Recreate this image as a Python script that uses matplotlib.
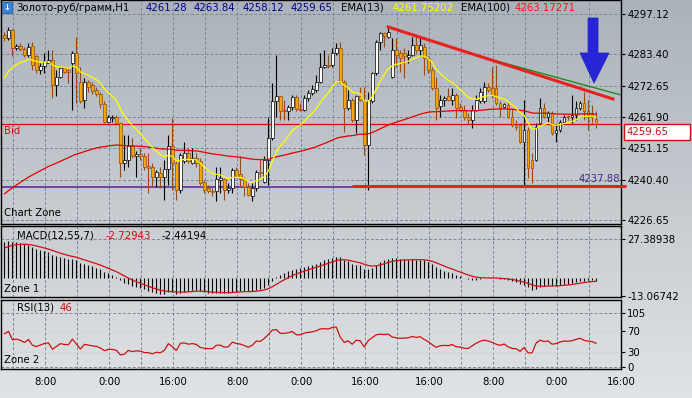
import numpy as np
import matplotlib
matplotlib.use("Agg")
import matplotlib.pyplot as plt
from matplotlib.patches import Rectangle, Polygon
import matplotlib.transforms as mtransforms

plt.rcParams['font.family'] = ['DejaVu Sans']
FS = 7.3

# ---------------- data (H1 candles) ----------------
opens = [4290.0, 4288.8, 4291.7, 4285.4, 4286.2, 4285.1, 4283.1, 4286.2, 4282.6, 4278.0,
         4279.4, 4280.5, 4281.4, 4272.9, 4275.5, 4278.6, 4278.0, 4280.3, 4283.7, 4274.0,
         4267.7, 4274.0, 4272.9, 4271.2, 4269.8, 4266.4, 4260.3, 4261.4, 4262.0, 4259.8,
         4246.3, 4247.2, 4251.8, 4248.4, 4249.3, 4248.6, 4245.2, 4244.9, 4241.3, 4242.7,
         4241.5, 4244.0, 4251.8, 4246.1, 4237.0, 4246.7, 4249.5, 4246.3, 4247.8, 4246.7,
         4239.6, 4237.5, 4236.7, 4236.7, 4240.4, 4240.6, 4237.0, 4237.5, 4243.8, 4242.4,
         4240.6, 4238.1, 4234.7, 4237.5, 4243.2, 4239.5, 4247.2, 4254.6, 4267.2, 4269.1,
         4264.3, 4263.8, 4265.2, 4268.7, 4264.5, 4264.3, 4268.3, 4270.0, 4271.2, 4274.0,
         4279.1, 4279.7, 4279.7, 4283.7, 4285.4, 4274.0, 4264.9, 4267.7, 4260.9, 4268.9,
         4267.2, 4252.4, 4267.2, 4276.9, 4287.7, 4290.5, 4289.4, 4275.7, 4284.8, 4283.7,
         4283.7, 4282.3, 4283.1, 4286.5, 4284.8, 4286.0, 4282.0, 4278.0, 4271.7, 4265.5,
         4267.7, 4268.9, 4267.7, 4269.4, 4265.2, 4264.3, 4262.0, 4260.9, 4264.3, 4267.2,
         4267.2, 4272.3, 4271.7, 4271.7, 4266.6, 4265.2, 4266.0, 4262.0, 4259.2, 4259.2,
         4253.5, 4257.5, 4247.2, 4247.2, 4259.8, 4264.9, 4262.0, 4263.2, 4256.3, 4257.5,
         4260.3, 4262.0, 4262.0, 4262.6, 4264.9, 4266.6, 4263.8, 4263.2, 4261.28]
highs = [4290.8, 4292.8, 4291.9, 4286.9, 4287.1, 4286.0, 4287.1, 4287.7, 4283.1, 4280.3,
         4283.7, 4284.8, 4284.8, 4278.0, 4279.1, 4279.1, 4278.6, 4284.3, 4289.4, 4279.1,
         4275.1, 4274.6, 4274.0, 4272.3, 4270.6, 4267.2, 4262.6, 4262.6, 4262.6, 4260.3,
         4255.8, 4255.8, 4254.6, 4250.1, 4251.2, 4249.5, 4249.5, 4246.1, 4243.8, 4244.9,
         4247.2, 4255.8, 4261.5, 4247.2, 4249.5, 4253.5, 4251.2, 4251.2, 4249.5, 4247.8,
         4240.2, 4238.7, 4237.5, 4244.9, 4244.9, 4241.0, 4239.2, 4244.4, 4244.9, 4248.4,
         4241.5, 4239.2, 4239.2, 4243.8, 4247.2, 4248.4, 4262.0, 4273.4, 4283.1, 4269.1,
         4267.7, 4266.0, 4269.4, 4269.4, 4266.6, 4269.4, 4271.2, 4272.9, 4276.3, 4283.7,
         4284.8, 4283.1, 4285.4, 4287.1, 4287.7, 4274.6, 4271.2, 4268.3, 4269.4, 4272.3,
         4272.3, 4270.6, 4277.4, 4288.3, 4291.1, 4291.1, 4292.2, 4288.8, 4288.8, 4284.8,
         4285.4, 4284.8, 4289.4, 4290.0, 4289.4, 4287.1, 4282.6, 4279.1, 4275.7, 4269.4,
         4269.1, 4271.7, 4271.7, 4270.0, 4266.6, 4266.0, 4263.2, 4266.0, 4269.4, 4271.7,
         4274.0, 4273.4, 4279.1, 4279.7, 4267.2, 4266.6, 4266.6, 4264.9, 4260.9, 4259.8,
         4267.7, 4258.6, 4249.5, 4259.8, 4268.3, 4266.6, 4263.8, 4263.8, 4259.2, 4260.9,
         4262.6, 4262.6, 4269.4, 4267.2, 4267.2, 4270.6, 4267.7, 4266.0, 4263.84]
lows = [4288.0, 4288.3, 4282.6, 4284.8, 4284.3, 4282.3, 4282.3, 4278.0, 4276.9, 4276.6,
        4276.9, 4280.3, 4268.3, 4268.9, 4275.1, 4276.9, 4273.4, 4264.3, 4266.6, 4266.6,
        4264.9, 4270.6, 4269.8, 4269.1, 4264.9, 4259.8, 4259.8, 4260.3, 4259.2, 4241.5,
        4243.8, 4244.9, 4247.8, 4241.5, 4247.2, 4243.8, 4236.0, 4238.1, 4238.1, 4237.5,
        4233.5, 4238.7, 4237.0, 4233.5, 4235.8, 4246.1, 4246.1, 4245.9, 4244.9, 4238.7,
        4235.8, 4235.8, 4234.7, 4233.0, 4235.8, 4233.5, 4235.8, 4235.8, 4241.0, 4238.1,
        4234.7, 4234.7, 4233.0, 4236.4, 4241.5, 4239.2, 4238.7, 4254.1, 4262.0, 4260.9,
        4260.9, 4260.9, 4264.3, 4264.1, 4263.8, 4264.1, 4267.2, 4269.4, 4270.6, 4273.4,
        4278.6, 4278.6, 4279.1, 4283.1, 4273.4, 4256.9, 4264.3, 4260.3, 4256.3, 4267.2,
        4248.9, 4237.0, 4266.6, 4276.3, 4284.8, 4286.0, 4288.8, 4275.1, 4279.1, 4277.4,
        4275.1, 4280.3, 4282.6, 4283.7, 4282.6, 4276.3, 4276.9, 4271.2, 4260.9, 4262.0,
        4265.5, 4267.2, 4266.0, 4261.5, 4263.8, 4260.9, 4259.5, 4258.0, 4263.8, 4266.6,
        4266.6, 4270.6, 4268.3, 4266.0, 4262.0, 4264.9, 4261.5, 4258.6, 4257.5, 4252.9,
        4238.1, 4241.0, 4239.2, 4246.7, 4259.2, 4261.5, 4260.3, 4255.8, 4253.5, 4256.9,
        4259.8, 4260.9, 4259.8, 4260.9, 4264.3, 4260.9, 4257.5, 4259.8, 4258.12]
closes = [4288.8, 4291.7, 4285.4, 4286.2, 4285.1, 4283.1, 4286.0, 4279.7, 4278.0, 4279.4,
          4280.9, 4281.4, 4272.9, 4275.5, 4278.6, 4277.4, 4277.2, 4283.7, 4276.9, 4267.2,
          4274.0, 4272.3, 4270.9, 4269.8, 4266.4, 4260.3, 4261.8, 4261.8, 4259.8, 4246.3,
          4247.2, 4251.8, 4248.4, 4249.3, 4248.4, 4244.9, 4244.4, 4241.3, 4242.9, 4241.5,
          4244.0, 4251.8, 4246.1, 4237.0, 4248.9, 4249.5, 4246.7, 4247.8, 4246.1, 4239.2,
          4237.0, 4236.7, 4236.2, 4240.6, 4241.0, 4237.0, 4237.5, 4243.8, 4241.5, 4240.6,
          4238.1, 4235.2, 4237.5, 4243.2, 4242.7, 4247.2, 4254.6, 4267.2, 4269.1, 4263.8,
          4263.8, 4265.2, 4268.7, 4264.5, 4264.3, 4268.3, 4270.0, 4271.4, 4274.0, 4279.1,
          4279.7, 4279.4, 4283.7, 4285.4, 4274.0, 4264.9, 4267.7, 4260.9, 4268.9, 4267.7,
          4252.4, 4267.7, 4276.9, 4287.7, 4290.5, 4289.6, 4291.1, 4284.8, 4283.1, 4282.0,
          4282.6, 4283.1, 4286.5, 4284.8, 4286.5, 4282.0, 4278.0, 4271.7, 4264.9, 4267.7,
          4268.3, 4267.7, 4269.4, 4264.9, 4264.3, 4261.8, 4260.9, 4264.3, 4267.7, 4270.6,
          4272.3, 4271.2, 4269.4, 4266.6, 4264.9, 4266.4, 4262.0, 4259.2, 4258.6, 4253.5,
          4257.5, 4244.4, 4244.4, 4258.6, 4264.9, 4262.0, 4263.2, 4256.3, 4257.5, 4260.3,
          4262.0, 4261.8, 4262.6, 4264.9, 4266.6, 4263.8, 4262.6, 4262.0, 4259.65]

# indicator starting levels read at the left edge of the picture
ema13_start = 4273.0
ema100_start = 4234.5
ema12_start = 4277.0
ema55_start = 4252.5
signal_start = 19.5
rsi_gain_start, rsi_loss_start = 1.1, 0.5

price_ticks = [4297.12, 4283.40, 4272.65, 4261.90, 4251.15, 4240.40, 4226.65]
macd_ticks = [27.38938, -13.06742]
rsi_ticks = [105, 70, 30, 0]
time_labels = ['8:00', '0:00', '16:00', '8:00', '0:00', '16:00', '16:00', '8:00', '0:00', '16:00']

bid = 4259.65
support_level = 4237.88
title_symbol = 'Золото-руб/грамм,H1'
title_ohlc = ['4261.28', '4263.84', '4258.12', '4259.65']
ema13_label, ema100_label = '4261.75202', '4263.17271'
macd_labels = ['-2.72943', '-2.44194']
rsi_label = '46'

# ---------------- indicators ----------------
opens, highs, lows, closes = map(np.array, (opens, highs, lows, closes))
n = len(closes)
idx = np.arange(n)


def ema(vals, period, seed):
    a = 2.0 / (period + 1)
    out, e = [], seed
    for v in vals:
        e = e + a * (v - e)
        out.append(e)
    return np.array(out)


ema13 = ema(closes, 13, ema13_start)
ema100 = ema(closes, 100, ema100_start)
macd = ema(closes, 12, ema12_start) - ema(closes, 55, ema55_start)
signal = ema(macd, 7, signal_start)

rsi = []
ag, al, prev = rsi_gain_start, rsi_loss_start, opens[0]
for c in closes:
    d = c - prev
    ag = (ag * 12 + max(d, 0)) / 13
    al = (al * 12 + max(-d, 0)) / 13
    rsi.append(100 - 100 / (1 + ag / al))
    prev = c
rsi = np.array(rsi)

# ---------------- figure ----------------
W, H = 692, 398
fig = plt.figure(figsize=(W / 100, H / 100), dpi=100)


def fx(px):
    return px / W


def fy(py):
    return 1 - py / H


bg = fig.add_axes([0, 0, 1, 1], zorder=-10)
grad = np.linspace(0, 1, 256)[:, None]
c_top = np.array([0.67, 0.70, 0.73])
c_bot = np.array([0.88, 0.89, 0.90])
img = c_top[None, None, :] * (1 - grad[:, :, None]) + c_bot[None, None, :] * grad[:, :, None]
bg.imshow(img, aspect='auto', extent=[0, 1, 0, 1])
bg.axis('off')

XL = (-1, 154.25)
grid_x = [2.25 + 8 * k for k in range(20)]
label_x = [grid_x[k] for k in range(1, 20, 2)]
GRID = dict(color='#7a8794', lw=0.7, ls=(0, (3, 2)))

ax = fig.add_axes([fx(0.5), fy(224), fx(620.5), (224 - 0) / H])
am = fig.add_axes([fx(0.5), fy(297), fx(620.5), (297 - 226) / H])
ar = fig.add_axes([fx(0.5), fy(369), fx(620.5), (369 - 300) / H])

for a in (ax, am, ar):
    a.set_facecolor('none')
    a.set_xlim(*XL)
    for s in a.spines.values():
        s.set_color('black')
        s.set_linewidth(1.0)
    for gx in grid_x:
        a.axvline(gx, zorder=0, **GRID)
    a.yaxis.tick_right()
    a.tick_params(axis='y', direction='out', length=3, width=0.8, pad=1.5,
                  labelsize=FS, colors='black')

# main panel
ax.set_ylim(4225.28, 4301.91)
ax.set_yticks(price_ticks)
ax.set_yticklabels(['%.2f' % v for v in price_ticks])
ax.set_xticks([])
for v in price_ticks:
    ax.axhline(v, zorder=0, **GRID)

up = closes >= opens
dn = ~up
ax.vlines(idx[up], lows[up], highs[up], color='black', lw=0.8, zorder=3)
ax.vlines(idx[dn], lows[dn], highs[dn], color='#9a4a10', lw=0.8, zorder=3)
body_lo = np.minimum(opens, closes)
body_h = np.maximum(np.abs(closes - opens), 0.3)
ax.bar(idx[up], body_h[up], bottom=body_lo[up], width=0.7, color='white',
       edgecolor='black', linewidth=0.5, zorder=4)
ax.bar(idx[dn], body_h[dn], bottom=body_lo[dn], width=0.7, color='#f2a600',
       edgecolor='#9a4a10', linewidth=0.5, zorder=4)

ax.plot(idx, ema100, color='#e00000', lw=0.9, zorder=5)
ax.plot(idx, ema13, color='#ffff00', lw=0.9, zorder=5)
ax.axhline(bid, color='#e00000', lw=0.9, zorder=2)
ax.axhline(support_level, color='#5b1fa0', lw=1.1, zorder=2)

# drawn objects
ax.plot([87, 155.5], [4238.45, 4238.45], color='#e82020', lw=2.2, zorder=6,
        clip_on=False, solid_capstyle='butt')
ax.plot([119, 154.25], [4282.58, 4269.41], color='#1f8a1f', lw=1.0, zorder=6)
ax.plot([96, 152.25], [4292.67, 4268.04], color='#e82020', lw=2.2, zorder=7)
arrow = Polygon([(146, 4295.75), (148.5, 4295.75), (148.5, 4283.78), (151.25, 4283.78),
                 (147.5, 4273.5), (144, 4283.78), (146, 4283.78)], closed=True,
                fc='#2626d6', ec='#2020c0', lw=0.5, zorder=8)
ax.add_patch(arrow)

bt = mtransforms.blended_transform_factory(ax.transAxes, ax.transData)
ax.text(0.006, 4257.1, 'Bid', color='#d01010', fontsize=FS, va='center', ha='left',
        transform=bt)
ax.text(0.998, 4240.7, '%.2f' % support_level, color='#4b2a8a', fontsize=FS,
        va='center', ha='right', transform=bt, zorder=9)
ax.text(0.006, 0.05, 'Chart Zone', color='black', fontsize=FS, va='center',
        ha='left', transform=ax.transAxes)

# bid box on price scale
fig.patches.append(Rectangle((fx(624), fy(140)), fx(66), (140 - 124) / H,
                             transform=fig.transFigure, fc='white', ec='#d01010', lw=1.0))
fig.text(fx(627), fy(132), '%.2f' % bid, color='#d01010', fontsize=FS, va='center',
         ha='left')

# title row
fig.patches.append(Rectangle((fx(2), fy(13)), fx(10), 11 / H, transform=fig.transFigure,
                             fc='#3b82d8', ec='#2a5fa8', lw=0.6))
fig.text(fx(7), fy(7.5), '↓', color='white', fontsize=6, ha='center', va='center',
         fontweight='bold')
fig.text(fx(16), fy(8), title_symbol, fontsize=FS, va='center', ha='left')
for xp, s in zip([146, 194, 242.5, 290.5], title_ohlc):
    fig.text(fx(xp), fy(8), s, fontsize=FS, va='center', ha='left', color='#00008b')
fig.text(fx(341.5), fy(8), 'EMA(13)', fontsize=FS, va='center', ha='left')
fig.text(fx(393), fy(8), ema13_label, fontsize=FS, va='center', ha='left', color='#ffff00')
fig.text(fx(461.5), fy(8), 'EMA(100)', fontsize=FS, va='center', ha='left')
fig.text(fx(515), fy(8), ema100_label, fontsize=FS, va='center', ha='left', color='#ff1010')

# MACD panel
am.set_ylim(-13.77, 36.62)
am.set_yticks(macd_ticks)
am.set_yticklabels(['%.5f' % v for v in macd_ticks])
am.set_xticks([])
am.axhline(macd_ticks[0], zorder=0, **GRID)
am.vlines(idx, 0, macd, color='black', lw=0.8, zorder=3)
am.plot(idx, signal, color='#d01010', lw=0.9, zorder=4)
fig.text(fx(17), fy(236), 'MACD(12,55,7)', fontsize=FS, va='center', ha='left')
fig.text(fx(106), fy(236), macd_labels[0], fontsize=FS, va='center', ha='left',
         color='#d01010')
fig.text(fx(162), fy(236), macd_labels[1], fontsize=FS, va='center', ha='left')
am.text(0.006, (297 - 289) / 71, 'Zone 1', fontsize=FS, va='center', ha='left',
        transform=am.transAxes)

# RSI panel
ar.set_ylim(-3.89, 130.35)
ar.set_yticks(rsi_ticks)
ar.set_yticklabels([str(v) for v in rsi_ticks])
for v in (105, 0):
    ar.axhline(v, zorder=0, **GRID)
for v in (70, 30):
    ar.axhline(v, color='#d2d6da', lw=0.8, zorder=0)
ar.plot(idx, rsi, color='#d01010', lw=0.9, zorder=4)
ar.set_xticks(label_x)
ar.set_xticklabels(time_labels)
ar.tick_params(axis='x', length=0, pad=6, labelsize=FS, colors='black')
fig.text(fx(17), fy(308), 'RSI(13)', fontsize=FS, va='center', ha='left')
fig.text(fx(60), fy(308), rsi_label, fontsize=FS, va='center', ha='left', color='#d01010')
ar.text(0.006, (369 - 360) / 69, 'Zone 2', fontsize=FS, va='center', ha='left',
        transform=ar.transAxes)

fig.savefig('out.png', dpi=100)
